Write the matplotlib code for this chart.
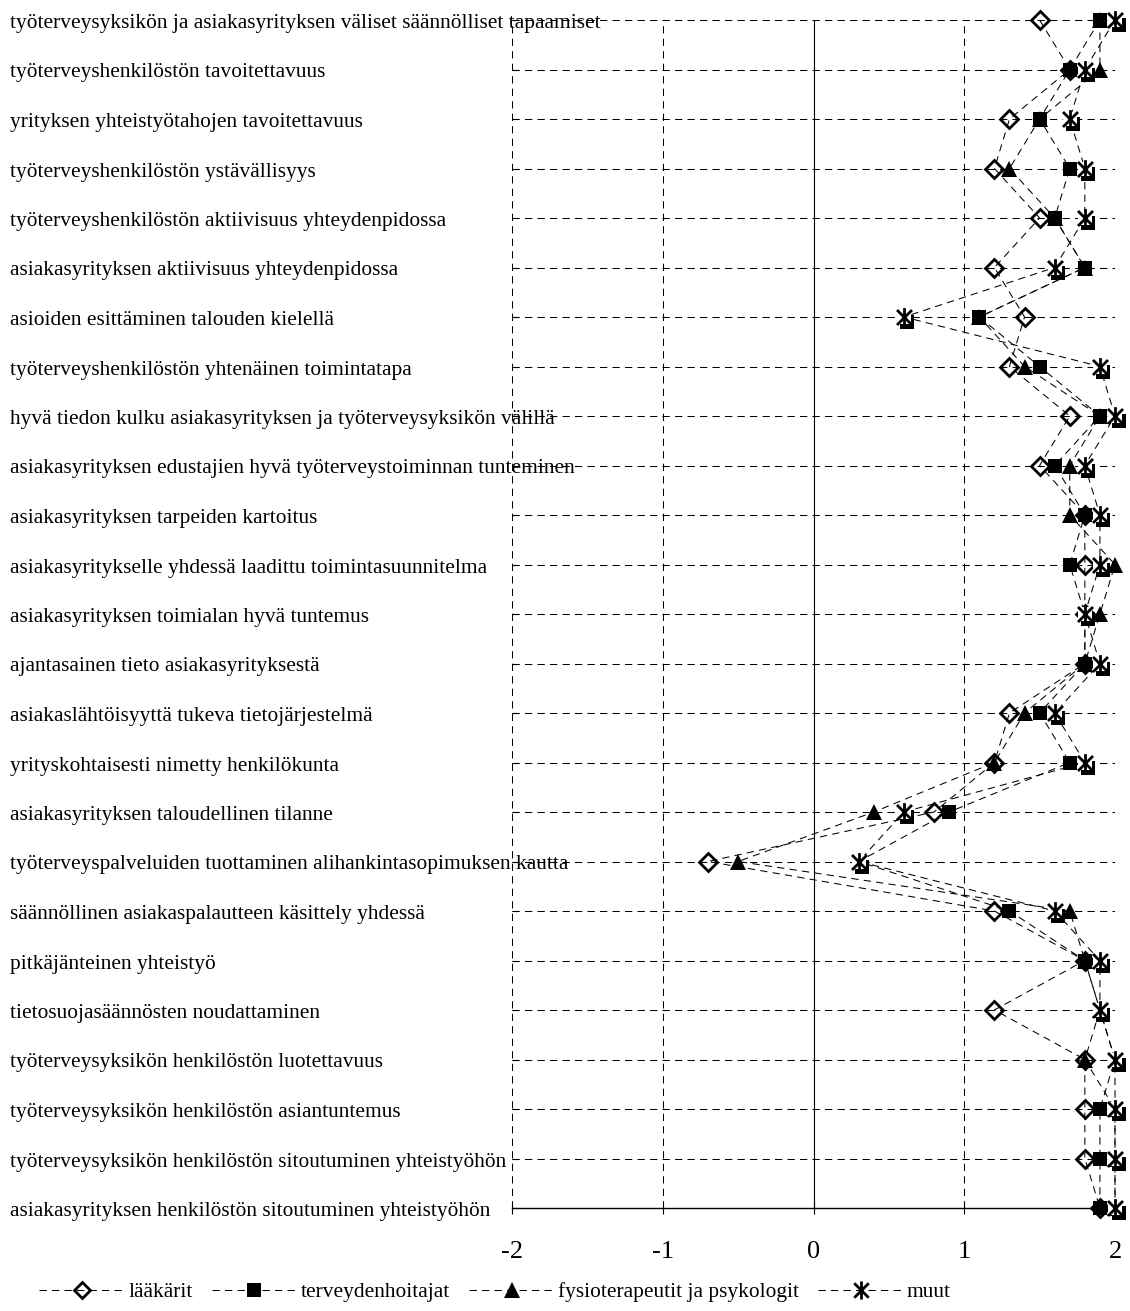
import matplotlib

matplotlib.use("Agg")
import matplotlib.pyplot as plt
import matplotlib.transforms as mtransforms
from matplotlib.lines import Line2D
from matplotlib.path import Path

categories = [
    "työterveysyksikön ja asiakasyrityksen väliset säännölliset tapaamiset",
    "työterveyshenkilöstön tavoitettavuus",
    "yrityksen yhteistyötahojen tavoitettavuus",
    "työterveyshenkilöstön ystävällisyys",
    "työterveyshenkilöstön aktiivisuus yhteydenpidossa",
    "asiakasyrityksen aktiivisuus yhteydenpidossa",
    "asioiden esittäminen talouden kielellä",
    "työterveyshenkilöstön yhtenäinen toimintatapa",
    "hyvä tiedon kulku asiakasyrityksen ja työterveysyksikön välillä",
    "asiakasyrityksen edustajien hyvä työterveystoiminnan tunteminen",
    "asiakasyrityksen tarpeiden kartoitus",
    "asiakasyritykselle yhdessä laadittu toimintasuunnitelma",
    "asiakasyrityksen toimialan hyvä tuntemus",
    "ajantasainen tieto asiakasyrityksestä",
    "asiakaslähtöisyyttä tukeva tietojärjestelmä",
    "yrityskohtaisesti nimetty henkilökunta",
    "asiakasyrityksen taloudellinen tilanne",
    "työterveyspalveluiden tuottaminen alihankintasopimuksen kautta",
    "säännöllinen asiakaspalautteen käsittely yhdessä",
    "pitkäjänteinen yhteistyö",
    "tietosuojasäännösten noudattaminen",
    "työterveysyksikön henkilöstön luotettavuus",
    "työterveysyksikön henkilöstön asiantuntemus",
    "työterveysyksikön henkilöstön sitoutuminen yhteistyöhön",
    "asiakasyrityksen henkilöstön sitoutuminen yhteistyöhön",
]

laakarit = [1.5, 1.7, 1.3, 1.2, 1.5, 1.2, 1.4, 1.3, 1.7, 1.5, 1.8, 1.8, 1.8,
            1.8, 1.3, 1.2, 0.8, -0.7, 1.2, 1.8, 1.2, 1.8, 1.8, 1.8, 1.9]
terveydenhoitajat = [1.9, 1.7, 1.5, 1.7, 1.6, 1.8, 1.1, 1.5, 1.9, 1.6, 1.8, 1.7, 1.8,
                     1.8, 1.5, 1.7, 0.9, 0.3, 1.3, 1.8, 1.9, 2.0, 1.9, 1.9, 1.9]
fysio_psyk = [1.9, 1.9, 1.5, 1.3, 1.6, 1.8, 1.1, 1.4, 1.9, 1.7, 1.7, 2.0, 1.9,
              1.8, 1.4, 1.2, 0.4, -0.5, 1.7, 1.8, 1.9, 1.8, 2.0, 2.0, 2.0]
muut = [2.0, 1.8, 1.7, 1.8, 1.8, 1.6, 0.6, 1.9, 2.0, 1.8, 1.9, 1.9, 1.8,
        1.9, 1.6, 1.8, 0.6, 0.3, 1.6, 1.9, 1.9, 2.0, 2.0, 2.0, 2.0]

series_names = ["lääkärit", "terveydenhoitajat", "fysioterapeutit ja psykologit", "muut"]
x_ticks = [-2, -1, 0, 1, 2]

FONT = "Liberation Serif"
DASH = (0, (7, 5))

# star marker: an X crossed by a vertical bar
STAR = Path(
    [(-1, -1), (1, 1), (-1, 1), (1, -1), (0, -1.25), (0, 1.25)],
    [Path.MOVETO, Path.LINETO, Path.MOVETO, Path.LINETO, Path.MOVETO, Path.LINETO],
)

fig = plt.figure(figsize=(11.3, 13.11), dpi=100)
ax = fig.add_axes([512 / 1130, 1 - 1208 / 1311, 603 / 1130, 1188 / 1311])

rows = list(range(len(categories)))

ax.set_xlim(-2, 2)
ax.set_ylim(len(categories) - 1, 0)
ax.set_xticks(x_ticks)
ax.set_xticklabels([str(t) for t in x_ticks], fontfamily=FONT, fontsize=19)
ax.set_yticks(rows)
ax.set_yticklabels([])
ax.tick_params(axis="x", direction="inout", length=8, width=0.8, pad=20)
ax.tick_params(axis="y", direction="in", length=4, width=0.8)
for side in ["top", "right", "left"]:
    ax.spines[side].set_visible(False)
ax.spines["bottom"].set_linewidth(1.0)

# dashed grid, solid line at zero
for x in x_ticks:
    if x == 0:
        ax.axvline(0, color="black", lw=0.8, zorder=1)
    else:
        ax.axvline(x, color="black", lw=0.75, ls=DASH, zorder=1)
for r in rows[:-1]:
    ax.axhline(r, color="black", lw=0.75, ls=DASH, zorder=1)

line_kw = dict(color="black", lw=0.75, ls=DASH, zorder=2, clip_on=False)
for values in [laakarit, terveydenhoitajat, fysio_psyk, muut]:
    ax.plot(values, rows, **line_kw)

ax.plot(laakarit, rows, ls="none", marker="D", ms=9.5, mfc="none", mec="black",
        mew=2.0, zorder=3, clip_on=False)
ax.plot(terveydenhoitajat, rows, ls="none", marker="s", ms=10.5, mfc="black",
        mec="black", mew=0, zorder=4, clip_on=False)
ax.plot(fysio_psyk, rows, ls="none", marker="^", ms=12, mfc="black", mec="black",
        mew=0, zorder=5, clip_on=False)

# muut: shadowed white box with a star on top
shadow = ax.transData + mtransforms.ScaledTranslation(3.5 / 100, -5 / 100, fig.dpi_scale_trans)
ax.plot(muut, rows, ls="none", marker="s", ms=10, mfc="black", mew=0,
        transform=shadow, zorder=6, clip_on=False)
ax.plot(muut, rows, ls="none", marker="s", ms=10, mfc="white", mew=0,
        zorder=7, clip_on=False)
ax.plot(muut, rows, ls="none", marker=STAR, ms=13.5, mfc="none", mec="black",
        mew=2.0, zorder=8, clip_on=False)

# category names sit at the left edge of the figure, a touch below each row line
label_tf = mtransforms.blended_transform_factory(fig.transFigure, ax.transData) \
    + mtransforms.ScaledTranslation(0, -3.5 / 100, fig.dpi_scale_trans)
for r, name in zip(rows, categories):
    fig.text(10 / 1130, r, name, transform=label_tf, ha="left", va="center",
             fontfamily=FONT, fontsize=15.4)

handle_kw = dict(color="black", lw=0.75, ls=DASH)
handles = [
    Line2D([], [], marker="D", ms=8, mfc="none", mec="black", mew=2.0, **handle_kw),
    Line2D([], [], marker="s", ms=10, mfc="black", mec="black", mew=0, **handle_kw),
    Line2D([], [], marker="^", ms=12, mfc="black", mec="black", mew=0, **handle_kw),
    Line2D([], [], marker=STAR, ms=13, mfc="none", mec="black", mew=2.0, **handle_kw),
]
fig.legend(handles, series_names, loc="center", bbox_to_anchor=(495 / 1130, 1 - 1292 / 1311),
           ncol=4, frameon=False, handlelength=4.0, handletextpad=0.15, columnspacing=0.9,
           prop={"family": FONT, "size": 15.4})

fig.savefig("out.png", dpi=100)
